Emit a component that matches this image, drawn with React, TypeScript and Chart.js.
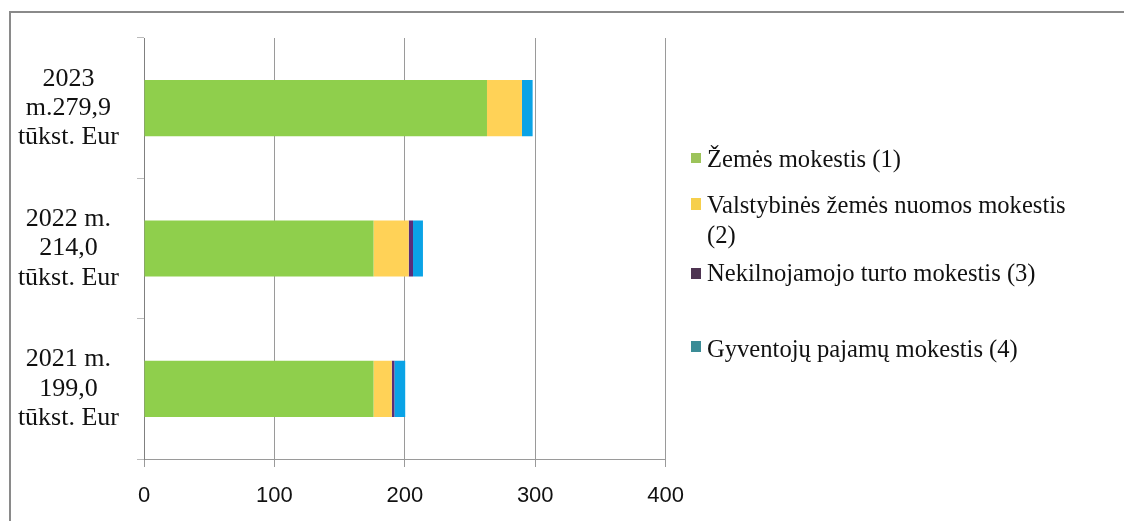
import React, { useEffect, useRef } from "react";
import { Chart, registerables } from "chart.js";

Chart.register(...registerables);

const categories: string[][] = [
  ["2023", "m.279,9", "tūkst. Eur"],
  ["2022 m.", "214,0", "tūkst. Eur"],
  ["2021 m.", "199,0", "tūkst. Eur"],
];
const seriesNames = [
  "Žemės mokestis (1)",
  "Valstybinės žemės nuomos mokestis (2)",
  "Nekilnojamojo turto mokestis (3)",
  "Gyventojų pajamų mokestis (4)",
];
const zemesMokestis = [263, 176, 176];
const valstybinesZemes = [26.8, 27, 14];
const nekilnojamojoTurto = [0, 3.3, 2];
const gyventojuPajamu = [8.2, 7.6, 8.3];
const xTicks = [0, 100, 200, 300, 400];

const barColors = ["#8fcf4c", "#ffd257", "#5a2d78", "#0aa3e6"];
const legendColors = ["#9cc35a", "#f6cf4c", "#4e3452", "#3b8c96"];
const legendRows: { top: number; lines: string[]; markerTop: number; markerH: number }[] = [
  { top: 144, lines: ["Žemės mokestis (1)"], markerTop: 153, markerH: 10 },
  { top: 190, lines: ["Valstybinės žemės nuomos mokestis", "(2)"], markerTop: 198, markerH: 12 },
  { top: 258, lines: ["Nekilnojamojo turto mokestis (3)"], markerTop: 268, markerH: 11 },
  { top: 334, lines: ["Gyventojų pajamų mokestis (4)"], markerTop: 341, markerH: 11 },
];

export default function App() {
  const ref = useRef<HTMLCanvasElement | null>(null);

  useEffect(() => {
    document.body.style.margin = "0";
    if (!ref.current) return;
    const data = [zemesMokestis, valstybinesZemes, nekilnojamojoTurto, gyventojuPajamu];
    const chart = new Chart(ref.current, {
      type: "bar",
      data: {
        labels: categories,
        datasets: data.map((d, i) => ({
          label: seriesNames[i],
          data: d,
          backgroundColor: barColors[i],
          borderWidth: 0,
          categoryPercentage: 0.8,
          barPercentage: 0.5,
        })),
      },
      options: {
        indexAxis: "y",
        responsive: false,
        animation: false,
        layout: { padding: { top: 38, right: 33, left: 0, bottom: 0 } },
        plugins: { legend: { display: false }, tooltip: { enabled: false } },
        scales: {
          x: {
            stacked: true,
            min: 0,
            max: 400,
            afterBuildTicks: (scale: any) => {
              scale.ticks = xTicks.map((v) => ({ value: v }));
            },
            afterFit: (scale: any) => {
              scale.height = 62;
            },
            grid: {
              color: "#9a9a9a",
              lineWidth: 1,
              tickLength: 8,
              drawTicks: true,
            },
            border: { display: true, color: "#9a9a9a", width: 1 },
            ticks: {
              color: "#111",
              padding: 16,
              font: { family: "Liberation Sans", size: 22 },
            },
          },
          y: {
            stacked: true,
            afterFit: (scale: any) => {
              scale.width = 144;
              scale.paddingTop = 0;
              scale.paddingBottom = 0;
            },
            grid: {
              drawOnChartArea: false,
              drawTicks: true,
              tickLength: 7,
              color: "#bbbbbb",
            },
            border: { display: true, color: "#808080", width: 1 },
            ticks: {
              color: "#111",
              crossAlign: "center",
              padding: 18,
              font: { family: "Liberation Serif", size: 26, lineHeight: 1.13 },
            },
          },
        },
      },
    } as any);
    return () => chart.destroy();
  }, []);

  return (
    <div
      style={{
        position: "fixed",
        left: 0,
        top: 0,
        width: 1124,
        height: 521,
        overflow: "hidden",
        background: "#fff",
      }}
    >
      <div
        style={{
          position: "absolute",
          left: 9,
          top: 11,
          width: 1200,
          height: 600,
          borderTop: "2px solid #8a8a8a",
          borderLeft: "2px solid #8a8a8a",
        }}
      />
      <canvas ref={ref} width={700} height={521} style={{ position: "absolute", left: 0, top: 0 }} />
      {legendRows.map((r, i) => (
        <React.Fragment key={i}>
          <div
            style={{
              position: "absolute",
              left: 691,
              top: r.markerTop,
              width: 10,
              height: r.markerH,
              background: legendColors[i],
            }}
          />
          <div
            style={{
              position: "absolute",
              left: 707,
              top: r.top,
              fontFamily: "Liberation Serif",
              fontSize: 24.6,
              lineHeight: "30px",
              color: "#111",
              whiteSpace: "nowrap",
            }}
          >
            {r.lines.map((l, j) => (
              <div key={j}>{l}</div>
            ))}
          </div>
        </React.Fragment>
      ))}
    </div>
  );
}
